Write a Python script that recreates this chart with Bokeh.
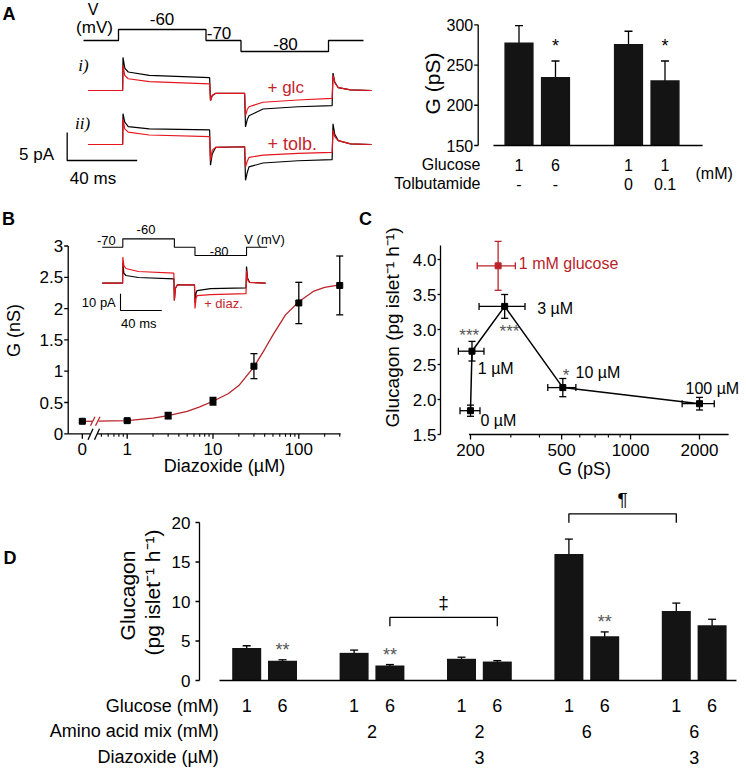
import math
from bokeh.plotting import figure
from bokeh.models import (Range1d, LinearScale, LogScale, Label, Whisker, TeeHead,
                          ColumnDataSource)
from bokeh.embed import file_html
from bokeh.resources import INLINE

FONT = "Liberation Sans"
SERIF = "Liberation Serif"
BAR = "#141414"
TRACE_RED = "#e5161d"
TEXT_RED = "#c4262e"
CURVE_RED = "#b9232a"
STAR_GREY = "#555555"

# ---------------- data ----------------
# Panel A: voltage protocol
protocol_ms = [0, 20, 20, 70, 70, 90, 90, 140, 140, 160]
protocol_mV = [-70, -70, -60, -60, -70, -70, -80, -80, -70, -70]
# Panel A: currents (pA, relative to the holding current)
trace_ms = [0, 19.8, 20, 21, 23, 35, 69.5, 70, 71, 73, 89.5, 90, 91, 92, 100, 120, 139.5, 140, 141, 143, 150, 162]
trace_i_ctrl = [0, 0, 5.9, 4.0, 3.3, 2.7, 2.3, -1.8, -0.9, -0.5, -0.5, -6.5, -5.2, -4.5, -3.3, -2.9, -2.7, 3.1, 1.5, 0.5, 0.1, 0]
trace_i_glc = [0, 0, 4.5, 2.7, 2.1, 1.6, 1.2, -1.8, -0.9, -0.5, -0.5, -4.5, -3.4, -2.9, -2.1, -1.7, -1.4, 2.7, 1.4, 0.5, 0.1, 0]
trace_ii_ctrl = [0, 0, 5.5, 4.0, 3.2, 2.8, 2.6, -3.7, -1.7, -0.5, -0.4, -6.4, -5.0, -4.0, -3.3, -2.9, -2.7, 3.7, 1.8, 0.7, 0.1, 0]
trace_ii_tolb = [0, 0, 4.6, 2.8, 2.2, 1.7, 1.4, -2.9, -1.0, -0.5, -0.4, -4.0, -3.0, -2.3, -1.9, -1.6, -1.4, 2.5, 1.4, 0.7, 0.1, 0]
# Panel A: conductance bars
a_glucose = ["1", "6", "1", "1"]
a_tolbutamide = ["-", "-", "0", "0.1"]
a_G = [278, 235, 276, 231]
a_G_err = [21, 20, 16, 24]
a_sig = ["", "*", "", "*"]
a_y_ticks = [150, 200, 250, 300]

# Panel B: dose response
b_diazoxide = [0, 1, 3, 10, 30, 100, 300]
b_G = [0.20, 0.21, 0.29, 0.52, 1.08, 2.09, 2.37]
b_G_err = [0.02, 0.02, 0.05, 0.06, 0.20, 0.33, 0.47]
b_fit_diazoxide = [0, 1, 2, 3, 5, 7, 10, 15, 20, 30, 40, 50, 70, 100, 150, 200, 300]
b_fit_G = [0.20, 0.21, 0.25, 0.29, 0.36, 0.43, 0.52, 0.64, 0.77, 1.07, 1.35, 1.58, 1.90, 2.11, 2.28, 2.34, 2.38]
b_x_ticks = [0, 1, 10, 100]
b_x_minor = [0.5, 0.6, 0.7, 0.8, 0.9, 2, 3, 4, 5, 6, 7, 8, 9, 20, 30, 40, 50, 60, 70, 80, 90, 200, 300]
b_y_ticks = [0, 0.5, 1, 1.5, 2, 2.5, 3]
# Panel B inset
inset_ms = [0, 19.8, 20, 21, 23, 35, 69.5, 70, 71, 73, 89.5, 90, 91, 92, 105, 139.5, 140, 141, 143, 158.5]
inset_ctrl = [0, 0, 12.4, 6.0, 4.6, 3.4, 2.6, -10.4, -3.0, -1.0, -1.0, -11.6, -6.0, -4.4, -3.2, -2.75, 10.0, 3.0, 0.5, 0]
inset_diaz = [0, 0, 15.6, 10.5, 8.8, 7.0, 6.0, -10.4, -3.0, -1.0, -1.0, -15.1, -9.0, -7.4, -6.8, -6.3, 7.6, 2.0, 0.5, 0]

# Panel C
c_labels = ["0 \u00b5M", "1 \u00b5M", "3 \u00b5M", "10 \u00b5M", "100 \u00b5M"]
c_G = [200, 203, 282, 506, 2000]
c_G_err = [20, 26, 64, 71, 320]
c_glucagon = [1.84, 2.69, 3.33, 2.17, 1.94]
c_glucagon_err = [0.08, 0.14, 0.17, 0.13, 0.09]
c_sig = ["", "***", "***", "*", ""]
c_ctrl_label = "1 mM glucose"
c_ctrl_G = [264]
c_ctrl_G_err = [50]
c_ctrl_glucagon = [3.91]
c_ctrl_glucagon_err = [0.35]
c_x_ticks = [200, 500, 1000, 2000]
c_x_minor = [300, 400, 600, 700, 800, 900]
c_y_ticks = [1.5, 2.0, 2.5, 3.0, 3.5, 4.0]

# Panel D
d_glucose = ["1", "6", "1", "6", "1", "6", "1", "6", "1", "6"]
d_amino = ["", "2", "2", "6", "6"]
d_diazoxide = ["", "", "3", "", "3"]
d_glucagon = [4.1, 2.5, 3.5, 1.9, 2.75, 2.4, 16.0, 5.6, 8.8, 7.0]
d_err = [0.3, 0.12, 0.35, 0.12, 0.2, 0.12, 1.9, 0.55, 1.0, 0.75]
d_sig = ["", "**", "", "**", "", "", "", "**", "", ""]
d_comparisons = [(3, 5, "\u2021"), (6, 8, "\u00b6")]
d_y_ticks = [0, 5, 10, 15, 20]

# ---------------- layout constants (page pixels) ----------------
W, H = 746, 768
A_T0, A_TT0, A_MS = 83.0, 87.5, 1.75          # x of t=0 (protocol, traces); px per ms
A_V70, A_MV = 40.0, 1.1                       # y of -70 mV; px per mV
A_I1, A_I2, A_PA = 90.0, 144.0, 5.6           # y of trace baselines; px per pA
AB_X1, AB_UNIT = 518.5, 36.5                  # A bars: x of slot 1; px per slot
AB_Y150, AB_PPU = 145.0, 0.8047               # y of 150 pS; px per pS
B_X1, B_DEC = 126.7, 85.8                     # B: x of 1 uM; px per decade
B_Y0, B_PPU = 433.3, 62.6
B_IT0, B_IMS = 101.7, 1.031
B_IV70, B_IMV = 246.7, 0.835
B_IP0, B_IPA = 282.7, 1.67
C_X200, C_DEC = 470.0, 229.0
C_Y15, C_PPU = 434.0, 70.0
D_X0, D_UNIT = 246.2, 35.8
D_Y0, D_PPU = 680.0, 7.9


def xlin(x0, ppu, v0=0.0):
    return Range1d(v0 + (0 - x0) / ppu, v0 + (W - x0) / ppu)


def ylin(y0, ppu, v0=0.0):
    return Range1d(v0 + (y0 - H) / ppu, v0 + y0 / ppu)


def xlog(x0, dec, v0):
    return Range1d(v0 * 10 ** ((0 - x0) / dec), v0 * 10 ** ((W - x0) / dec))


ex = {"a_pt": xlin(A_T0, A_MS), "a_tt": xlin(A_TT0, A_MS), "ab_x": xlin(AB_X1, AB_UNIT, 1.0),
      "b_x": xlog(B_X1, B_DEC, 1.0), "b_it": xlin(B_IT0, B_IMS),
      "c_x": xlog(C_X200, C_DEC, 200.0), "d_x": xlin(D_X0, D_UNIT)}
ey = {"a_mv": ylin(A_V70, A_MV, -70), "a_ti": ylin(A_I1, A_PA), "a_tii": ylin(A_I2, A_PA),
      "ab_y": ylin(AB_Y150, AB_PPU, 150), "b_y": ylin(B_Y0, B_PPU), "b_iv": ylin(B_IV70, B_IMV, -70),
      "b_ip": ylin(B_IP0, B_IPA), "c_y": ylin(C_Y15, C_PPU, 1.5), "d_y": ylin(D_Y0, D_PPU)}
xs = {k: LinearScale() for k in ex}
xs["b_x"] = LogScale()
xs["c_x"] = LogScale()

p = figure(width=W, height=H, x_range=Range1d(0, W), y_range=Range1d(H, 0), title=None,
           x_axis_location=None, y_axis_location=None, output_backend="svg",
           toolbar_location=None, tools="", min_border=0,
           extra_x_ranges=ex, extra_y_ranges=ey, extra_x_scales=xs,
           extra_y_scales={k: LinearScale() for k in ey})
p.outline_line_color = None
p.background_fill_color = "white"
p.border_fill_color = "white"
for g in list(p.center):
    g.visible = False


def text(x, y, s, size, align="center", baseline="middle", color="black", font=FONT,
         style="normal", angle=0.0, xr="default", yr="default", y_offset=0):
    p.add_layout(Label(x=x, y=y, text=s, x_range_name=xr, y_range_name=yr, text_font=font,
                       text_font_size=f"{size}px", text_font_style=style, text_color=color,
                       text_align=align, text_baseline=baseline, angle=angle, y_offset=y_offset))


def seg(x0, y0, x1, y1, xr="default", yr="default", color="black", lw=1.3):
    p.segment(x0=x0, y0=y0, x1=x1, y1=y1, x_range_name=xr, y_range_name=yr,
              line_color=color, line_width=lw)


def vaxis(X, yr, lo, hi, ticks, labels, size, tick_len=4, gap=2):
    n = len(ticks)
    seg([X], [lo], [X], [hi], yr=yr)
    seg([X] * n, ticks, [X - tick_len] * n, ticks, yr=yr)
    for t, s in zip(ticks, labels):
        text(X - tick_len - gap, t, s, size, align="right", yr=yr)


def haxis_ticks(Y, xr, ticks, labels, size, tick_len=5, label_dy=15, minor=(), minor_len=3):
    n = len(ticks)
    seg(ticks, [Y] * n, ticks, [Y + tick_len] * n, xr=xr)
    if minor:
        seg(list(minor), [Y] * len(minor), list(minor), [Y + minor_len] * len(minor), xr=xr, lw=1.1)
    for t, s in zip(ticks, labels):
        text(t, Y + label_dy, s, size, xr=xr)


def whiskers(base, lo, hi, xr, yr, color="black", dim="height", size=8):
    src = ColumnDataSource(dict(base=base, lo=lo, hi=hi))

    def head():
        return TeeHead(size=size, line_color=color, line_width=1.3)
    p.add_layout(Whisker(source=src, base="base", lower="lo", upper="hi", dimension=dim,
                         x_range_name=xr, y_range_name=yr, line_color=color, line_width=1.3,
                         upper_head=head(), lower_head=head()))


def minus(v, e):
    return [a - b for a, b in zip(v, e)]


def plus(v, e):
    return [a + b for a, b in zip(v, e)]


# ================= Panel A: traces =================
p.line(protocol_ms, protocol_mV, x_range_name="a_pt", y_range_name="a_mv", line_color="black", line_width=1.3)
for ys, yname, col in [(trace_i_ctrl, "a_ti", "black"), (trace_i_glc, "a_ti", TRACE_RED),
                       (trace_ii_ctrl, "a_tii", "black"), (trace_ii_tolb, "a_tii", TRACE_RED)]:
    p.line(trace_ms, ys, x_range_name="a_tt", y_range_name=yname, line_color=col, line_width=1.2)
SB_T, SB_I = -11.9, -2.86      # corner of the 40 ms / 5 pA scale bar
p.line([SB_T, SB_T, SB_T + 40], [SB_I + 5, SB_I, SB_I], x_range_name="a_tt", y_range_name="a_tii",
       line_color="black", line_width=1.3)
text(8.5, 13.5, "A", 18, style="bold")
text(92.5, 9, "V", 16)
text(94, 27, "(mV)", 17)
text(161.5, 18, "-60", 17)
text(218.5, 32, "-70", 17)
text(285, 43, "-80", 17)
text(83, 65, "i)", 17, font=SERIF, style="italic")
text(82, 123, "ii)", 17, font=SERIF, style="italic")
text(267, 87, "+ glc", 17, align="left", color=TEXT_RED)
text(267, 143, "+ tolb.", 18, align="left", color=TEXT_RED)
text(36, 154, "5 pA", 17)
text(92.5, 178, "40 ms", 17)

# ================= Panel A: bars =================
a_x = [1 + 3 * (i // 2) + (i % 2) for i in range(len(a_G))]
p.vbar(x=a_x, top=a_G, bottom=150, width=0.8, x_range_name="ab_x", y_range_name="ab_y",
       fill_color=BAR, line_color=None)
whiskers(a_x, minus(a_G, a_G_err), plus(a_G, a_G_err), "ab_x", "ab_y", size=8)
vaxis(477.7, "ab_y", 150, 300, a_y_ticks, [str(t) for t in a_y_ticks], 16, tick_len=4, gap=1)
seg([0.30], [AB_Y150], [6.03], [AB_Y150], xr="ab_x")
for i in range(len(a_G)):
    if a_sig[i]:
        text(a_x[i], a_G[i] + a_G_err[i], a_sig[i], 18, baseline="bottom", xr="ab_x", yr="ab_y", y_offset=5)
    text(a_x[i], 164, a_glucose[i], 16, xr="ab_x")
    text(a_x[i], 183, a_tolbutamide[i], 16, xr="ab_x")
text(480, 164, "Glucose", 16, align="right")
text(480, 183, "Tolbutamide", 16, align="right")
text(695, 173, "(mM)", 16, align="left")
text(432, 83, "G (pS)", 21, angle=math.pi / 2)

# ================= Panel B =================
B_ZERO_POS = 0.30   # plotting position of 0 uM on the broken log axis
bx = [B_ZERO_POS if c == 0 else c for c in b_diazoxide]
bfx = [B_ZERO_POS if c == 0 else c for c in b_fit_diazoxide]
p.line(bfx, b_fit_G, x_range_name="b_x", y_range_name="b_y", line_color=CURVE_RED, line_width=1.3)
whiskers(bx, minus(b_G, b_G_err), plus(b_G, b_G_err), "b_x", "b_y", size=7)
p.scatter(bx, b_G, x_range_name="b_x", y_range_name="b_y", marker="square", size=6,
          fill_color="black", line_color="black")
# inset
p.line(protocol_ms, protocol_mV, x_range_name="b_it", y_range_name="b_iv", line_color="black", line_width=1.1)
p.line(inset_ms, inset_ctrl, x_range_name="b_it", y_range_name="b_ip", line_color="black", line_width=1.2)
p.line(inset_ms, inset_diaz, x_range_name="b_it", y_range_name="b_ip", line_color=TRACE_RED, line_width=1.2)
ISB_T, ISB_I = 17.75, -16.35   # corner of the 40 ms / 10 pA scale bar
p.line([ISB_T, ISB_T, ISB_T + 40], [ISB_I + 10, ISB_I, ISB_I], x_range_name="b_it", y_range_name="b_ip",
       line_color="black", line_width=1.1)
text(105.8, 240, "-70", 13)
text(145.5, 229, "-60", 13)
text(218.7, 251, "-80", 13)
text(264, 239.3, "V (mV)", 13)
text(98.3, 301.7, "10 pA", 13)
text(138.3, 322.7, "40 ms", 13)
text(223, 302.7, "+ diaz.", 13, color=TEXT_RED)
# axes
vaxis(67.7, "b_y", 0, 3, b_y_ticks, [f"{t:g}" for t in b_y_ticks], 17, tick_len=4, gap=1)
B_AX_LO, B_GAP_LO, B_GAP_HI, B_AX_HI = 0.205, 0.373, 0.45, 307
seg([B_AX_LO, B_GAP_HI], [B_Y0, B_Y0], [B_GAP_LO, B_AX_HI], [B_Y0, B_Y0], xr="b_x")
haxis_ticks(B_Y0, "b_x", [B_ZERO_POS if t == 0 else t for t in b_x_ticks], [f"{t:g}" for t in b_x_ticks],
            17, tick_len=5, label_dy=15, minor=b_x_minor)
# break marks on the axis and on the fitted curve
BRK_X = 90.0
seg([BRK_X - 2.5, BRK_X + 4], [B_Y0 + 6, B_Y0 + 6], [BRK_X + 2.5, BRK_X + 9], [B_Y0 - 5, B_Y0 - 5])
CURVE_BRK_Y = B_Y0 - 0.2 * B_PPU
p.quad(left=[BRK_X + 2], right=[BRK_X + 8], top=[CURVE_BRK_Y - 4], bottom=[CURVE_BRK_Y + 4],
       fill_color="white", line_color=None)
seg([BRK_X, BRK_X + 5], [CURVE_BRK_Y + 4.5, CURVE_BRK_Y + 4.5], [BRK_X + 4.5, BRK_X + 9.5],
    [CURVE_BRK_Y - 4.5, CURVE_BRK_Y - 4.5], color=CURVE_RED, lw=1.2)
text(8, 218, "B", 18, style="bold")
text(13.3, 330, "G (nS)", 18, angle=math.pi / 2)
text(224, 465, "Diazoxide (\u00b5M)", 18)

# ================= Panel C =================
p.line(c_G, c_glucagon, x_range_name="c_x", y_range_name="c_y", line_color="black", line_width=1.5)
whiskers(c_G, minus(c_glucagon, c_glucagon_err), plus(c_glucagon, c_glucagon_err), "c_x", "c_y", size=7)
whiskers(c_glucagon, minus(c_G, c_G_err), plus(c_G, c_G_err), "c_x", "c_y", dim="width", size=7)
p.scatter(c_G, c_glucagon, x_range_name="c_x", y_range_name="c_y", marker="square", size=6,
          fill_color="black", line_color="black")
whiskers(c_ctrl_G, minus(c_ctrl_glucagon, c_ctrl_glucagon_err), plus(c_ctrl_glucagon, c_ctrl_glucagon_err),
         "c_x", "c_y", color=CURVE_RED, size=7)
whiskers(c_ctrl_glucagon, minus(c_ctrl_G, c_ctrl_G_err), plus(c_ctrl_G, c_ctrl_G_err),
         "c_x", "c_y", color=CURVE_RED, dim="width", size=7)
p.scatter(c_ctrl_G, c_ctrl_glucagon, x_range_name="c_x", y_range_name="c_y", marker="square", size=6,
          fill_color=CURVE_RED, line_color=CURVE_RED)
vaxis(440, "c_y", 1.5, 4.2, c_y_ticks, [f"{t:.1f}" for t in c_y_ticks], 17, tick_len=3, gap=1)
seg([197], [C_Y15], [2680], [C_Y15], xr="c_x")
haxis_ticks(C_Y15, "c_x", c_x_ticks, [str(t) for t in c_x_ticks], 17, tick_len=5, label_dy=15, minor=c_x_minor)
C_LABEL_POS = [(480, 420), (477.3, 368.3), (536.7, 308.3), (575, 371.7), (685, 388.3)]
C_SIG_POS = [None, (468.7, 335), (509, 331), (565.5, 374.5), None]
for i, txt in enumerate(c_labels):
    text(C_LABEL_POS[i][0], C_LABEL_POS[i][1], txt, 16, align="left")
    if c_sig[i]:
        text(C_SIG_POS[i][0], C_SIG_POS[i][1], c_sig[i], 17, color=STAR_GREY)
text(518.3, 262.7, c_ctrl_label, 16, align="left", color=CURVE_RED)
text(365, 218, "C", 18, style="bold")
text(391.7, 327, "Glucagon (pg islet\u207b\u00b9 h\u207b\u00b9)", 19, angle=math.pi / 2)
text(584, 468.3, "G (pS)", 18)

# ================= Panel D =================
d_x = [3 * (i // 2) + (i % 2) for i in range(len(d_glucagon))]
p.vbar(x=d_x, top=d_glucagon, bottom=0, width=0.81, x_range_name="d_x", y_range_name="d_y",
       fill_color=BAR, line_color=None)
whiskers(d_x, minus(d_glucagon, d_err), plus(d_glucagon, d_err), "d_x", "d_y", size=8)
vaxis(199, "d_y", 0, 20, d_y_ticks, [str(t) for t in d_y_ticks], 17, tick_len=4, gap=5)
seg([-0.76], [D_Y0], [13.68], [D_Y0], xr="d_x")
BRACKET_Y = [8.0, 21.1]
BRACKET_DROP = 9 / D_PPU
for (i0, i1, sym), yb in zip(d_comparisons, BRACKET_Y):
    x0, x1 = d_x[i0], d_x[i1]
    p.line([x0, x0, x1, x1], [yb - BRACKET_DROP, yb, yb, yb - BRACKET_DROP], x_range_name="d_x",
           y_range_name="d_y", line_color="black", line_width=1.3)
    text((x0 + x1) / 2, yb, sym, 19, baseline="bottom", xr="d_x", yr="d_y", y_offset=4)
for i in range(len(d_glucagon)):
    if d_sig[i]:
        text(d_x[i], d_glucagon[i] + d_err[i], d_sig[i], 18, baseline="bottom", color=STAR_GREY,
             xr="d_x", yr="d_y")
    text(d_x[i], 705, d_glucose[i], 18, xr="d_x")
for g in range(len(d_amino)):
    gx = (d_x[2 * g] + d_x[2 * g + 1]) / 2
    if d_amino[g]:
        text(gx, 730.7, d_amino[g], 18, xr="d_x")
    if d_diazoxide[g]:
        text(gx, 756.7, d_diazoxide[g], 18, xr="d_x")
text(218.3, 705, "Glucose (mM)", 18, align="right")
text(218.3, 730.7, "Amino acid mix (mM)", 18, align="right")
text(218.3, 756.7, "Diazoxide (\u00b5M)", 18, align="right")
text(9.5, 557, "D", 18, style="bold")
text(126.7, 595, "Glucagon", 21, angle=math.pi / 2)
text(151.7, 592, "(pg islet\u207b\u00b9 h\u207b\u00b9)", 21, angle=math.pi / 2)

open("out.html", "w").write(file_html(p, INLINE, "Figure"))
